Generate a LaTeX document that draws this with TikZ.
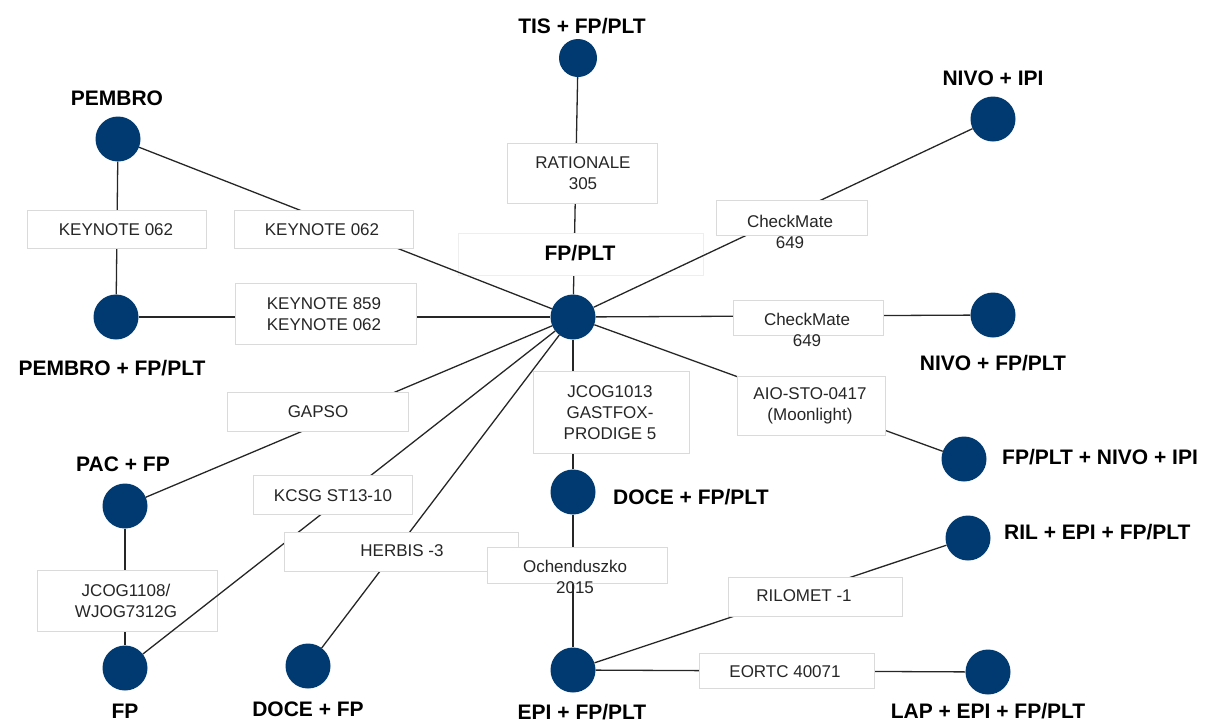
\documentclass[tikz,border=0pt]{standalone}
\usepackage{fontspec}
\setmainfont{Liberation Sans}
\definecolor{nodeblue}{RGB}{0,58,112}
\definecolor{edgegray}{RGB}{38,38,38}
\definecolor{boxgray}{RGB}{218,218,218}
\definecolor{faintgray}{RGB}{238,238,238}
\tikzset{
  arm/.style={circle, fill=nodeblue, minimum size=45pt, inner sep=0pt},
  smallarm/.style={arm, minimum size=38pt},
  armname/.style={font=\bfseries\fontsize{21}{25}\selectfont, inner sep=0pt},
  link/.style={draw=edgegray, line width=1.3pt},
  trialbox/.style={draw=boxgray, line width=0.8pt, fill=white, inner sep=0pt},
  trialtext/.style={font=\fontsize{17}{21}\selectfont, align=center, inner sep=0pt, text=black!85},
}
\begin{document}
\begin{tikzpicture}[x=1pt,y=-1pt]
\useasboundingbox (0,0) rectangle (1220,724);

% treatment arms
\node[arm] (fpplt) at (573,317) {};
\node[smallarm] (tis) at (578,58) {};
\node[arm] (pembro) at (118,139) {};
\node[arm] (pembrofp) at (116,317) {};
\node[arm] (nivoipi) at (993,119) {};
\node[arm] (nivofp) at (993,315) {};
\node[arm] (fpnivoipi) at (964,459) {};
\node[arm] (pacfp) at (125,506) {};
\node[arm] (fp) at (125,668) {};
\node[arm] (docefp) at (308,666) {};
\node[arm] (doceplt) at (573,492) {};
\node[arm] (epi) at (573,670) {};
\node[arm] (ril) at (968,538) {};
\node[arm] (lap) at (988,672) {};

% arm names
\node[armname] (tisname) at (582,26) {TIS + FP/PLT};
\node[armname] (pembroname) at (117,98) {PEMBRO};
\node[armname] (nivoipiname) at (993,78) {NIVO + IPI};
\node[armname] (pembrofpname) at (112,368) {PEMBRO + FP/PLT};
\node[armname] (nivofpname) at (993,363) {NIVO + FP/PLT};
\node[armname, anchor=west] (fpnivoipiname) at (1002,457) {FP/PLT + NIVO + IPI};
\node[armname] (pacfpname) at (123,464) {PAC + FP};
\node[armname, anchor=west] (docepltname) at (613,497) {DOCE + FP/PLT};
\node[armname, anchor=west] (rilname) at (1004,532) {RIL + EPI + FP/PLT};
\node[armname] (fpname) at (125,711) {FP};
\node[armname] (docefpname) at (308,709) {DOCE + FP};
\node[armname] (epiname) at (582,712) {EPI + FP/PLT};
\node[armname] (lapname) at (988,711) {LAP + EPI + FP/PLT};

% comparisons
\draw[link] (tis) -- (fpplt);
\node[trialbox, draw=faintgray, minimum width=245pt, minimum height=42pt] (fppltbox) at (580.5,254) {};
\node[armname] (fppltname) at (580,253) {FP/PLT};

\draw[link] (pembro) -- (pembrofp);
\draw[link] (pembro) -- (fpplt);
\draw[link] (pembrofp) -- (fpplt);
\draw[link] (nivoipi) -- (fpplt);
\draw[link] (nivofp) -- (fpplt);
\draw[link] (fpnivoipi) -- (fpplt);
\draw[link] (pacfp) -- (fpplt);
\draw[link] (docefp) -- (fpplt);
\draw[link] (doceplt) -- (fpplt);
\draw[link] (pacfp) -- (fp);
\draw[link] (doceplt) -- (epi);
\draw[link] (epi) -- (ril);
\draw[link] (epi) -- (lap);

% JCOG1108 box sits under the KCSG ST13-10 comparison line
\node[trialbox, minimum width=180pt, minimum height=61pt] (b12) at (127,600.5) {};
\node[trialtext] (t12) at (126,601) {JCOG1108/\\WJOG7312G};
\draw[link] (fp) -- (fpplt);

% trial label boxes
\node[trialbox, minimum width=150pt, minimum height=60pt] (b1) at (582,173) {};
\node[trialbox, minimum width=179pt, minimum height=38pt] (b2) at (116.5,229) {};
\node[trialbox, minimum width=179pt, minimum height=38pt] (b3) at (323.5,229) {};
\node[trialbox, minimum width=181pt, minimum height=61pt] (b4) at (325.5,313.5) {};
\node[trialbox, minimum width=151pt, minimum height=35pt] (b5) at (791.5,217.5) {};
\node[trialbox, minimum width=150pt, minimum height=35pt] (b6) at (808,317.5) {};
\node[trialbox, minimum width=148pt, minimum height=59pt] (b7) at (811,405.5) {};
\node[trialbox, minimum width=181pt, minimum height=39pt] (b8) at (317.5,411.5) {};
\node[trialbox, minimum width=156pt, minimum height=82pt] (b9) at (611,412) {};
\node[trialbox, minimum width=159pt, minimum height=39pt] (b10) at (332.5,494.5) {};
\node[trialbox, minimum width=234pt, minimum height=39pt] (b11) at (401,551.5) {};
\node[trialbox, minimum width=180pt, minimum height=36pt] (b13) at (577,565) {};
\node[trialbox, minimum width=174pt, minimum height=39pt] (b14) at (815,596.5) {};
\node[trialbox, minimum width=175pt, minimum height=35pt] (b15) at (786.5,670.5) {};

% trial names
\node[trialtext] (t1) at (583,173) {RATIONALE\\305};
\node[trialtext] (t2) at (116,230) {KEYNOTE 062};
\node[trialtext] (t3) at (322,230) {KEYNOTE 062};
\node[trialtext] (t4) at (324,314.5) {KEYNOTE 859\\KEYNOTE 062};
\node[trialtext] (t5) at (790,231.5) {CheckMate\\649};
\node[trialtext] (t6) at (807,330) {CheckMate\\649};
\node[trialtext] (t7) at (810,405.5) {AIO-STO-0417\\(Moonlight)};
\node[trialtext] (t8) at (318,412) {GAPSO};
\node[trialtext] (t9) at (610,412.5) {JCOG1013\\GASTFOX-\\PRODIGE 5};
\node[trialtext] (t10) at (333,496) {KCSG ST13-10};
\node[trialtext] (t11) at (402,551) {HERBIS -3};
\node[trialtext] (t13) at (575,577) {Ochenduszko\\2015};
\node[trialtext] (t14) at (804,596) {RILOMET -1};
\node[trialtext] (t15) at (785,672) {EORTC 40071};
\end{tikzpicture}
\end{document}
